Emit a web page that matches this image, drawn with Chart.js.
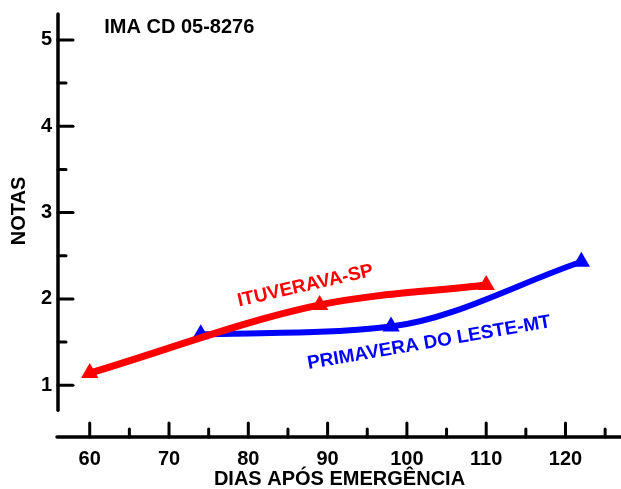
<!DOCTYPE html>
<html><head><meta charset="utf-8">
<script src="https://cdn.jsdelivr.net/npm/chart.js@4"></script>
<style>html,body{margin:0;padding:0;background:#fff}#wrap{width:621px;height:489px;position:relative}</style>
</head><body><div id="wrap"><canvas id="c"></canvas></div>
<script>
const chartTitle = 'IMA CD 05-8276';
const xAxisTitle = 'DIAS APÓS EMERGÊNCIA';
const yAxisTitle = 'NOTAS';
const ituveravaLabel = 'ITUVERAVA-SP';
const primaveraLabel = 'PRIMAVERA DO LESTE-MT';
const ituveravaDays = [60, 89, 110];
const ituveravaNotas = [1.14, 1.93, 2.16];
const primaveraDays = [74, 98, 122];
const primaveraNotas = [1.59, 1.68, 2.43];
const xMajorTicks = [60, 70, 80, 90, 100, 110, 120];
const xMinorTicks = [65, 75, 85, 95, 105, 115, 125];
const yMajorTicks = [1, 2, 3, 4, 5];
const yMinorTicks = [1.5, 2.5, 3.5, 4.5];

const FONT = "'Liberation Sans', Arial, Helvetica, sans-serif";
Chart.defaults.font.family = FONT;
Chart.defaults.font.weight = 'bold';
Chart.defaults.color = '#000';

const toPts = (xs, ys) => xs.map((v, i) => ({x: v, y: ys[i]}));

const decor = {
  id: 'decor',
  afterDatasetsDraw(chart) {
    const {ctx, scales: {x, y}} = chart;
    ctx.save();
    ctx.strokeStyle = '#000';
    ctx.lineCap = 'round';
    // y axis
    const ax = x.left;
    ctx.lineWidth = 3.5;
    ctx.beginPath();
    ctx.moveTo(ax, y.getPixelForValue(5.3));
    ctx.lineTo(ax, y.getPixelForValue(0.71));
    ctx.stroke();
    ctx.lineWidth = 3;
    yMajorTicks.forEach(v => { const p = y.getPixelForValue(v); ctx.beginPath(); ctx.moveTo(ax, p); ctx.lineTo(ax + 15, p); ctx.stroke(); });
    yMinorTicks.forEach(v => { const p = y.getPixelForValue(v); ctx.beginPath(); ctx.moveTo(ax, p); ctx.lineTo(ax + 8, p); ctx.stroke(); });
    // x axis
    const ay = y.bottom;
    ctx.lineWidth = 3.5;
    ctx.beginPath();
    ctx.moveTo(x.left - 1, ay);
    ctx.lineTo(chart.width + 2, ay);
    ctx.stroke();
    ctx.lineWidth = 3;
    xMajorTicks.forEach(v => { const p = x.getPixelForValue(v); ctx.beginPath(); ctx.moveTo(p, ay); ctx.lineTo(p, ay - 14); ctx.stroke(); });
    xMinorTicks.forEach(v => { const p = x.getPixelForValue(v); ctx.beginPath(); ctx.moveTo(p, ay); ctx.lineTo(p, ay - 8); ctx.stroke(); });

    // texts
    ctx.fillStyle = '#000';
    ctx.textAlign = 'center';
    ctx.textBaseline = 'middle';
    ctx.font = 'bold 20px ' + FONT;
    ctx.fillText(chartTitle, x.getPixelForValue(71.3), y.getPixelForValue(5.14));
    ctx.textBaseline = 'alphabetic';
    ctx.fillText(xAxisTitle, (x.left + x.right) / 2, 485);
    ctx.save();
    ctx.translate(25, 211);
    ctx.rotate(-Math.PI / 2);
    ctx.fillText(yAxisTitle, 0, 0);
    ctx.restore();

    ctx.font = 'bold 19px ' + FONT;
    ctx.textBaseline = 'middle';
    ctx.save();
    ctx.fillStyle = '#ff0000';
    ctx.translate(x.getPixelForValue(87.2), y.getPixelForValue(2.15));
    ctx.rotate(-12.8 * Math.PI / 180);
    ctx.fillText(ituveravaLabel, 0, 0);
    ctx.restore();
    ctx.save();
    ctx.fillStyle = '#0000ff';
    ctx.translate(x.getPixelForValue(102.8), y.getPixelForValue(1.49));
    ctx.rotate(-9.8 * Math.PI / 180);
    ctx.fillText(primaveraLabel, 0, 0);
    ctx.restore();
    ctx.restore();
  }
};

new Chart(document.getElementById('c'), {
  type: 'line',
  data: {
    datasets: [
      {
        label: ituveravaLabel,
        data: toPts(ituveravaDays, ituveravaNotas),
        borderColor: '#ff0000', backgroundColor: '#ff0000',
        borderWidth: 7, cubicInterpolationMode: 'monotone',
        pointStyle: 'triangle', pointRadius: 10, pointBorderWidth: 0
      },
      {
        label: primaveraLabel,
        data: toPts(primaveraDays, primaveraNotas),
        borderColor: '#0000ff', backgroundColor: '#0000ff',
        borderWidth: 6, cubicInterpolationMode: 'monotone',
        pointStyle: 'triangle', pointRadius: 10, pointBorderWidth: 0
      }
    ]
  },
  options: {
    responsive: true,
    maintainAspectRatio: false,
    animation: false,
    layout: {padding: {top: 14, left: 0, right: 0, bottom: 0}, autoPadding: false},
    plugins: {legend: {display: false}, tooltip: {enabled: false}, title: {display: false}},
    scales: {
      x: {
        type: 'linear', min: 56, max: 127,
        grid: {display: false, drawTicks: false}, border: {display: false},
        afterFit: s => { s.height = 52; s.paddingLeft = 0; s.paddingRight = 0; },
        ticks: {stepSize: 10, includeBounds: false, padding: 10, font: {size: 20, weight: 'bold'}, color: '#000', maxRotation: 0}
      },
      y: {
        type: 'linear', min: 0.4, max: 5.3,
        grid: {display: false, drawTicks: false}, border: {display: false},
        afterFit: s => { s.width = 58; s.paddingTop = 0; s.paddingBottom = 0; },
        ticks: {stepSize: 1, includeBounds: false, padding: 6, font: {size: 20, weight: 'bold'}, color: '#000'}
      }
    }
  },
  plugins: [decor]
});
</script>
</body></html>
